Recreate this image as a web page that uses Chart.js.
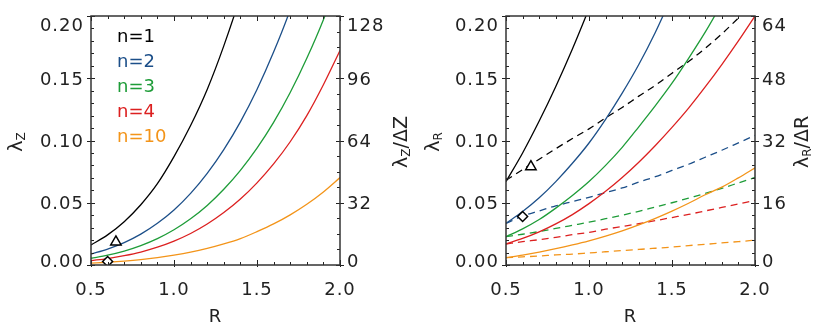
<!DOCTYPE html>
<html>
<head>
<meta charset="utf-8">
<script src="https://cdn.jsdelivr.net/npm/chart.js@4.4.1/dist/chart.umd.min.js"></script>
<style>
  html, body { margin: 0; padding: 0; background: #fff; }
  #wrap { position: relative; width: 830px; height: 333px; }
  canvas { position: absolute; top: 0; }
</style>
</head>
<body>
<div id="wrap">
  <canvas id="leftPanel" width="415" height="333" style="left:0"></canvas>
  <canvas id="rightPanel" width="415" height="333" style="left:415px"></canvas>
</div>
<script>
// R grid shared by every curve
const radius = [0.5, 0.6, 0.7, 0.8, 0.9, 1.0, 1.1, 1.2, 1.3, 1.4, 1.5, 1.6, 1.7, 1.8, 1.9, 2.0];

// left panel: lambda_Z (solid)
const lzN1  = [0.0161, 0.0242, 0.0348, 0.0484, 0.0653, 0.087, 0.112, 0.141, 0.176, 0.216, 0.262];
const lzN2  = [0.0088, 0.0128, 0.0180, 0.0248, 0.0335, 0.0442, 0.0575, 0.0736, 0.0927, 0.115, 0.141, 0.171, 0.205, 0.246];
const lzN3  = [0.0054, 0.0079, 0.0112, 0.0156, 0.0212, 0.0283, 0.0371, 0.0478, 0.0608, 0.076, 0.0938, 0.1145, 0.1385, 0.166, 0.197, 0.233];
const lzN4  = [0.0035, 0.0052, 0.0075, 0.0104, 0.0143, 0.0192, 0.0253, 0.0329, 0.0421, 0.0530, 0.066, 0.0812, 0.099, 0.120, 0.1448, 0.1723];
const lzN10 = [0.0015, 0.0022, 0.0031, 0.0043, 0.0059, 0.0079, 0.0103, 0.0133, 0.0169, 0.0212, 0.0268, 0.0330, 0.0403, 0.0488, 0.0587, 0.0702];

// right panel: lambda_R (solid, left axis)
const lrN1  = [0.067, 0.090, 0.1156, 0.1434, 0.1735, 0.206, 0.24];
const lrN2  = [0.0335, 0.0429, 0.054, 0.067, 0.0817, 0.098, 0.117, 0.138, 0.161, 0.187, 0.216];
const lrN3  = [0.0228, 0.0290, 0.0365, 0.0457, 0.0558, 0.067, 0.0800, 0.0945, 0.111, 0.128, 0.146, 0.166, 0.187, 0.21];
const lrN4  = [0.0169, 0.0213, 0.0266, 0.0330, 0.0405, 0.0493, 0.0592, 0.0703, 0.0826, 0.0960, 0.1105, 0.126, 0.143, 0.161, 0.180, 0.200];
const lrN10 = [0.0059, 0.0080, 0.0104, 0.0131, 0.0161, 0.0194, 0.0232, 0.0274, 0.0322, 0.0375, 0.0433, 0.0496, 0.0564, 0.0625, 0.070, 0.078];

// right panel: lambda_R / delta R (dashed, right axis)
const rrN1  = [21.8, 24.5, 27.2, 29.9, 32.5, 35.0, 37.8, 40.5, 43.4, 46.2, 49.3, 52.3, 55.7, 59.4, 63.5, 67.8];
const rrN2  = [10.7, 12.6, 13.9, 15.2, 16.3, 17.4, 18.6, 19.8, 21.3, 22.7, 24.3, 25.9, 27.7, 29.5, 31.4, 33.3];
const rrN3  = [7.3, 7.9, 8.6, 9.4, 10.2, 11.0, 11.9, 12.8, 13.8, 14.9, 16.0, 17.2, 18.4, 19.7, 21.1, 22.5];
const rrN4  = [5.4, 6.0, 6.5, 7.1, 7.8, 8.4, 9.2, 9.9, 10.6, 11.4, 12.2, 13.0, 13.9, 14.8, 15.7, 16.6];
const rrN10 = [1.9, 2.1, 2.3, 2.6, 2.8, 3.1, 3.4, 3.7, 4.0, 4.3, 4.6, 5.0, 5.3, 5.7, 6.0, 6.4];

// triangle / diamond markers
const markR      = [0.65, 0.6];
const leftMarkY  = [0.0185, 0.0028];
const rightMarkY = [0.079, 0.039];

// ticks and labels
const xTicks      = [0.5, 1.0, 1.5, 2.0];
const lambdaTicks = [0, 0.05, 0.10, 0.15, 0.20];
const zRatioTicks = [0, 32, 64, 96, 128];
const rRatioTicks = [0, 16, 32, 48, 64];
const legendLabels = ['n=1', 'n=2', 'n=3', 'n=4', 'n=10'];
const colors = ['#000000', '#1c4f89', '#1e9c38', '#dc2020', '#f39419'];

const FONT = '"DejaVu Sans", sans-serif';
const CAP = 13;

function line(ys, axis, color, dashed) {
  return {
    data: ys.map((v, i) => ({ x: radius[i], y: v })),
    yAxisID: axis,
    borderColor: color,
    borderWidth: 1.3,
    borderDash: dashed ? [7, 5] : [],
    pointRadius: 0,
    fill: false,
    cubicInterpolationMode: 'monotone',
    order: 1
  };
}

function markers(ys) {
  return {
    data: ys.map((v, i) => ({ x: markR[i], y: v })),
    yAxisID: 'y',
    showLine: false,
    pointStyle: ['triangle', 'rectRot'],
    pointRadius: [6, 5],
    pointBorderColor: '#000',
    pointBackgroundColor: '#fff',
    pointBorderWidth: 1.5,
    order: 0
  };
}

// text made of parts, e.g. lambda + subscript
function drawParts(ctx, parts, cx, cy, rotate) {
  ctx.save();
  ctx.translate(cx, cy);
  if (rotate) ctx.rotate(-Math.PI / 2);
  let w = 0;
  parts.forEach(p => { ctx.font = p.size + 'px ' + FONT; w += ctx.measureText(p.t).width; });
  let x = -w / 2;
  parts.forEach(p => {
    ctx.font = p.size + 'px ' + FONT;
    ctx.fillStyle = p.color || '#222';
    ctx.fillText(p.t, x, CAP / 2 + (p.dy || 0));
    x += ctx.measureText(p.t).width;
  });
  ctx.restore();
}

const idlAxes = {
  id: 'idlAxes',
  afterDraw(chart, args, o) {
    const { ctx, chartArea: a, scales } = chart;
    const xs = scales.x, yl = scales.y, yr = scales.y2;
    ctx.save();

    // minor + major tick marks on all four sides
    ctx.strokeStyle = '#222';
    ctx.lineWidth = 1;
    ctx.beginPath();
    for (let v = xs.min; v <= xs.max + 1e-9; v += 0.1) {
      const px = Math.round(xs.getPixelForValue(v)) + 0.5;
      const major = xTicks.some(t => Math.abs(t - v) < 1e-6);
      const len = major ? 5 : 3;
      ctx.moveTo(px, a.bottom + (major ? 2 : 0)); ctx.lineTo(px, a.bottom - len);
      ctx.moveTo(px, a.top); ctx.lineTo(px, a.top + len);
    }
    for (let v = yl.min; v <= yl.max + 1e-9; v += 0.01) {
      const py = Math.round(yl.getPixelForValue(v)) + 0.5;
      const major = lambdaTicks.some(t => Math.abs(t - v) < 1e-6);
      ctx.moveTo(a.left - (major ? 4 : 0), py); ctx.lineTo(a.left + (major ? 4 : 3), py);
    }
    for (let v = yr.min; v <= yr.max + 1e-9; v += o.rightMinor) {
      const py = Math.round(yr.getPixelForValue(v)) + 0.5;
      const major = o.rightTicks.some(t => Math.abs(t - v) < 1e-6);
      ctx.moveTo(a.right + (major ? 4 : 0), py); ctx.lineTo(a.right - (major ? 4 : 3), py);
    }
    ctx.stroke();

    // frame
    ctx.strokeStyle = '#333';
    ctx.lineWidth = 1.5;
    ctx.strokeRect(a.left, a.top, a.right - a.left, a.bottom - a.top);

    // tick labels
    ctx.fillStyle = '#222';
    ctx.font = '18px ' + FONT;
    ctx.letterSpacing = '1px';
    const clampY = py => Math.min(Math.max(py, a.top + 2 + CAP / 2), a.bottom + 2 - CAP / 2);
    ctx.textAlign = 'right';
    lambdaTicks.forEach(t => {
      ctx.fillText(t.toFixed(2), a.left - 7, clampY(yl.getPixelForValue(t)) + CAP / 2);
    });
    ctx.textAlign = 'left';
    o.rightTicks.forEach(t => {
      ctx.fillText(String(t), a.right + 7, clampY(yr.getPixelForValue(t)) + CAP / 2);
    });
    ctx.textAlign = 'center';
    xTicks.forEach(t => {
      ctx.fillText(t.toFixed(1), xs.getPixelForValue(t), 288 + CAP / 2);
    });
    ctx.fillText('R', (a.left + a.right) / 2, 315 + CAP / 2);
    ctx.letterSpacing = '0px';
    ctx.textAlign = 'left';

    // axis titles
    const s = o.sub;
    drawParts(ctx, [{ t: 'λ', size: 19 }, { t: s, size: 12, dy: 3 }], o.leftTitleX, 142, true);
    drawParts(ctx, [{ t: 'λ', size: 19 }, { t: s, size: 12, dy: 3 }, { t: '/Δ' + s, size: 19 }], o.rightTitleX, 142, true);

    // legend
    if (o.legend) {
      ctx.font = '18px ' + FONT;
      legendLabels.forEach((lab, i) => {
        ctx.fillStyle = colors[i];
        ctx.fillText(lab, 117, 42 + 25 * i);
      });
    }
    ctx.restore();
  }
};

function scalesFor(rightMax, rightStep) {
  const hidden = { display: false };
  return {
    x: {
      type: 'linear', min: 0.5, max: 2.0,
      ticks: { display: false, stepSize: 0.5 },
      grid: hidden, border: hidden,
      afterFit: s => { s.height = 68; }
    },
    y: {
      type: 'linear', position: 'left', min: 0, max: 0.2,
      ticks: { display: false, stepSize: 0.05 },
      grid: hidden, border: hidden,
      afterFit: s => { s.width = 91; }
    },
    y2: {
      type: 'linear', position: 'right', min: 0, max: rightMax,
      ticks: { display: false, stepSize: rightStep },
      grid: hidden, border: hidden,
      afterFit: s => { s.width = 75; }
    }
  };
}

function baseOptions(rightMax, rightStep, axesOpts) {
  return {
    responsive: false,
    animation: false,
    layout: { padding: { top: 16, left: 0, right: 0, bottom: 0 } },
    plugins: { legend: { display: false }, tooltip: { enabled: false }, idlAxes: axesOpts },
    scales: scalesFor(rightMax, rightStep)
  };
}

new Chart(document.getElementById('leftPanel'), {
  type: 'line',
  data: {
    datasets: [
      markers(leftMarkY),
      line(lzN1, 'y', colors[0]),
      line(lzN2, 'y', colors[1]),
      line(lzN3, 'y', colors[2]),
      line(lzN4, 'y', colors[3]),
      line(lzN10, 'y', colors[4])
    ]
  },
  options: baseOptions(128, 32, {
    rightTicks: zRatioTicks, rightMinor: 8, sub: 'Z',
    leftTitleX: 15.5, rightTitleX: 400, legend: true
  }),
  plugins: [idlAxes]
});

new Chart(document.getElementById('rightPanel'), {
  type: 'line',
  data: {
    datasets: [
      markers(rightMarkY),
      line(lrN1, 'y', colors[0]),
      line(lrN2, 'y', colors[1]),
      line(lrN3, 'y', colors[2]),
      line(lrN4, 'y', colors[3]),
      line(lrN10, 'y', colors[4]),
      line(rrN1, 'y2', colors[0], true),
      line(rrN2, 'y2', colors[1], true),
      line(rrN3, 'y2', colors[2], true),
      line(rrN4, 'y2', colors[3], true),
      line(rrN10, 'y2', colors[4], true)
    ]
  },
  options: baseOptions(64, 16, {
    rightTicks: rRatioTicks, rightMinor: 3.2, sub: 'R',
    leftTitleX: 17.5, rightTitleX: 386, legend: false
  }),
  plugins: [idlAxes]
});
</script>
</body>
</html>
